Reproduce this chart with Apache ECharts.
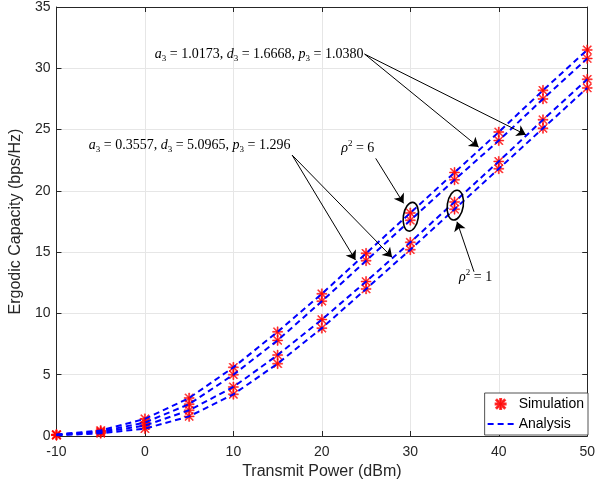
<!DOCTYPE html>
<html>
<head>
<meta charset="utf-8">
<script src="https://cdn.jsdelivr.net/npm/echarts@6/dist/echarts.min.js"></script>
<style>html,body{margin:0;padding:0;background:#fff;}#c{width:598px;height:488px;}</style>
</head>
<body>
<div id="c"></div>
<script>
// ---- data ----
const powerDbm = [-10, -5, 0, 5, 10, 15, 20, 25, 30, 35, 40, 45, 50];
const rho6A = [0.12, 0.45, 1.40, 3.10, 5.60, 8.50, 11.60, 14.90, 18.20, 21.50, 24.80, 28.20, 31.50];
const rho6B = [0.10, 0.37, 1.10, 2.60, 5.00, 7.80, 11.00, 14.30, 17.60, 20.90, 24.10, 27.50, 30.80];
const rho1A = [0.08, 0.30, 0.85, 2.10, 4.00, 6.60, 9.50, 12.60, 15.80, 19.10, 22.40, 25.80, 29.10];
const rho1B = [0.06, 0.22, 0.60, 1.60, 3.40, 5.90, 8.80, 12.00, 15.20, 18.50, 21.80, 25.10, 28.40];
const curves = [rho6A, rho6B, rho1A, rho1B];

const toPairs = arr => powerDbm.map((x, i) => [x, arr[i]]);
const star = 'path://M9 0 h2 v20 h-2 z M0 9 h20 v2 h-20 z M2.7 1.3 L18.7 17.3 L17.3 18.7 L1.3 2.7 Z M17.3 1.3 L18.7 2.7 L2.7 18.7 L1.3 17.3 Z';

const axisColor = '#262626';
const series = [];
curves.forEach(c => {
  series.push({
    name: 'Simulation', type: 'scatter', data: toPairs(c),
    symbol: star, symbolSize: 10, z: 2,
    itemStyle: { color: '#ff0000', borderColor: '#ff0000', borderWidth: 0.6 }
  });
});
curves.forEach((c, k) => {
  const s = {
    name: 'Analysis', type: 'line', data: toPairs(c),
    symbol: 'none', z: 3,
    lineStyle: { color: '#0000ff', width: 2, type: [6, 4] },
    itemStyle: { color: '#0000ff' }
  };
  if (k === 0) {
    s.markLine = {
      silent: true, animation: false,
      symbol: ['none', 'arrow'], symbolSize: 9,
      label: { show: false },
      lineStyle: { color: '#000', width: 1, type: 'solid' },
      data: [
        [{ coord: [24.83, 31.16] }, { coord: [37.72, 23.57] }],
        [{ coord: [24.83, 31.16] }, { coord: [43.06, 24.58] }],
        [{ coord: [16.64, 22.92] }, { coord: [23.80, 14.36] }],
        [{ coord: [16.64, 22.92] }, { coord: [27.94, 14.58] }],
        [{ coord: [26.09, 22.65] }, { coord: [29.24, 18.98] }],
        [{ coord: [37.20, 13.40] }, { coord: [35.28, 17.48] }]
      ]
    };
  }
  series.push(s);
});

const chart = echarts.init(document.getElementById('c'), null, { renderer: 'canvas' });
const tickFont = { color: axisColor, fontSize: 14, fontFamily: 'Liberation Sans, Arial, sans-serif' };
chart.setOption({
  animation: false,
  backgroundColor: '#fff',
  grid: { left: 48.5, right: 9.5, top: 7, bottom: 52, containLabel: false },
  legend: {
    data: ['Simulation', { name: 'Analysis', itemStyle: { color: 'rgba(0,0,0,0)', borderWidth: 0 } }],
    orient: 'vertical',
    right: 10, bottom: 53, itemWidth: 26, itemHeight: 10, itemGap: 6,
    padding: [4, 4, 4, 2],
    backgroundColor: '#fff', borderColor: axisColor, borderWidth: 0.8,
    textStyle: { color: '#000', fontSize: 14, fontFamily: 'Liberation Sans, Arial, sans-serif' }
  },
  xAxis: [{
    type: 'value', min: -10, max: 50, interval: 10,
    name: 'Transmit Power (dBm)', nameLocation: 'middle', nameGap: 25,
    nameTextStyle: { color: axisColor, fontSize: 16, fontFamily: 'Liberation Sans, Arial, sans-serif' },
    axisLine: { lineStyle: { color: axisColor, width: 1 } },
    axisTick: { inside: true, length: 5, lineStyle: { color: axisColor } },
    axisLabel: Object.assign({ margin: 9 }, tickFont),
    splitLine: { show: true, lineStyle: { color: '#e6e6e6', width: 1 } }
  }, {
    type: 'value', min: -10, max: 50, interval: 10, position: 'top',
    axisLine: { onZero: false, lineStyle: { color: axisColor, width: 1 } },
    axisTick: { inside: true, length: 5, lineStyle: { color: axisColor } },
    axisLabel: { show: false }, splitLine: { show: false }
  }],
  yAxis: [{
    type: 'value', min: 0, max: 35, interval: 5,
    name: 'Ergodic Capacity (bps/Hz)', nameLocation: 'middle', nameGap: 28,
    nameTextStyle: { color: axisColor, fontSize: 16, fontFamily: 'Liberation Sans, Arial, sans-serif' },
    axisLine: { show: true, onZero: false, lineStyle: { color: axisColor, width: 1 } },
    axisTick: { show: true, inside: true, length: 5, lineStyle: { color: axisColor } },
    axisLabel: Object.assign({ margin: 6 }, tickFont),
    splitLine: { show: true, lineStyle: { color: '#e6e6e6', width: 1 } }
  }, {
    type: 'value', min: 0, max: 35, interval: 5, position: 'right',
    axisLine: { show: true, onZero: false, lineStyle: { color: axisColor, width: 1 } },
    axisTick: { show: true, inside: true, length: 5, lineStyle: { color: axisColor } },
    axisLabel: { show: false }, splitLine: { show: false }
  }],
  series: series
});

// ---- annotations (data coordinates) ----
const serif = 'Liberation Serif, Times New Roman, serif';
const rich = {
  n: { fontFamily: serif, fontSize: 14, lineHeight: 18, fill: '#000' },
  i: { fontFamily: serif, fontSize: 14, fontStyle: 'italic', lineHeight: 18, fill: '#000' },
  s: { fontFamily: serif, fontSize: 9, lineHeight: 11, verticalAlign: 'bottom', fill: '#000' },
  u: { fontFamily: serif, fontSize: 9, lineHeight: 11, verticalAlign: 'top', fill: '#000' }
};
const labels = [
  { at: [24.70, 31.16], align: 'right', text: '{i|a}{s|3}{n| = 1.0173, }{i|d}{s|3}{n| = 1.6668, }{i|p}{s|3}{n| = 1.0380}' },
  { at: [16.45, 23.74], align: 'right', text: '{i|a}{s|3}{n| = 0.3557, }{i|d}{s|3}{n| = 5.0965, }{i|p}{s|3}{n| = 1.296}' },
  { at: [24.06, 23.49], align: 'center', text: '{i|ρ}{u|2}{n| = 6}' },
  { at: [37.39, 12.97], align: 'center', text: '{i|ρ}{u|2}{n| = 1}' }
];
const ellipses = [
  { at: [30.06, 17.89], rx: 7.5, ry: 14.5 },
  { at: [35.09, 18.84], rx: 8, ry: 15 }
];
const px = p => chart.convertToPixel({ xAxisIndex: 0, yAxisIndex: 0 }, p);
const graphics = [];
labels.forEach(l => {
  const p = px(l.at);
  graphics.push({
    type: 'text', x: p[0], y: p[1], z: 10,
    style: { text: l.text, rich: rich, align: l.align, verticalAlign: 'middle', fill: '#000' }
  });
});
ellipses.forEach(e => {
  const p = px(e.at);
  graphics.push({
    type: 'ellipse', x: p[0], y: p[1], rotation: -0.15, z: 10,
    shape: { cx: 0, cy: 0, rx: e.rx, ry: e.ry },
    style: { fill: 'none', stroke: '#000', lineWidth: 1.6 }
  });
});
chart.setOption({ graphic: graphics });
</script>
</body>
</html>
